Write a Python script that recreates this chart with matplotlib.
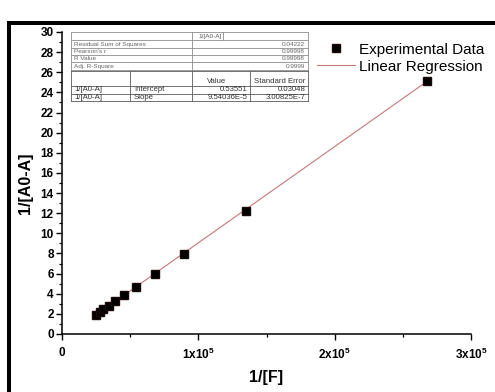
import numpy as np
import matplotlib
matplotlib.use("Agg")
import matplotlib.pyplot as plt
from matplotlib.patches import Rectangle

plt.rcParams['font.family'] = ['Liberation Sans', 'DejaVu Sans']
plt.rcParams['mathtext.fontset'] = 'custom'
plt.rcParams['mathtext.rm'] = 'Liberation Sans:bold'
plt.rcParams['mathtext.bf'] = 'Liberation Sans:bold'
plt.rcParams['mathtext.it'] = 'Liberation Sans:bold'

# Measured data: 1/[F] versus 1/[A0-A]
inv_F = [24900, 27900, 30300, 34200, 39100, 45500, 54500, 68000, 89700, 134700, 267700]
inv_dA = [1.86, 2.19, 2.46, 2.79, 3.28, 3.88, 4.68, 5.97, 7.99, 12.24, 25.17]

x_ticks = [0, 1e5, 2e5, 3e5]
x_tick_labels = ['0', r'$\mathbf{1x10^5}$', r'$\mathbf{2x10^5}$', r'$\mathbf{3x10^5}$']
y_ticks = list(range(0, 31, 2))

# Fit summary tables
stats_header = "1/[A0-A]"
stats_labels = ["Residual Sum of Squares", "Pearson's r", "R Value", "Adj. R-Square"]
stats_values = ["0.04222", "0.99998", "0.99998", "0.9999"]
param_header = ["Value", "Standard Error"]
param_rows = [
    ["1/[A0-A]", "Intercept", "0.53551", "0.03048"],
    ["1/[A0-A]", "Slope", "9.54036E-5", "3.00825E-7"],
]

W, H = 495, 392
fig = plt.figure(figsize=(W / 100, H / 100), dpi=100)

L, R, T, B = 62, 471, 32, 334
ax = fig.add_axes([L / W, (H - B) / H, (R - L) / W, (B - T) / H])

x = np.array(inv_F, dtype=float)
y = np.array(inv_dA, dtype=float)
slope, intercept = np.polyfit(x, y, 1)
xf = np.array([x.min(), x.max()])
ax.plot(xf, intercept + slope * xf, color='#c47878', lw=0.8, zorder=2,
        label='Linear Regression')
ax.plot(x, y, ls='none', marker='s', ms=5.5, color='black', mec='#1a0a0a',
        zorder=3, label='Experimental Data')

ax.set_xlim(0, 3e5)
ax.set_ylim(0, 30)
ax.set_xticks(x_ticks)
ax.set_xticklabels(x_tick_labels)
ax.set_xticks([0.5e5, 1.5e5, 2.5e5], minor=True)
ax.set_yticks(y_ticks)
ax.set_yticks(range(1, 30, 2), minor=True)
for s in ['top', 'right']:
    ax.spines[s].set_visible(False)
for s in ['left', 'bottom']:
    ax.spines[s].set_linewidth(1.1)
ax.tick_params(which='major', direction='out', length=4, width=1, labelsize=8.5)
ax.tick_params(which='minor', direction='out', length=2.5, width=0.9)
ax.tick_params(axis='x', which='major', pad=5, labelsize=8.5)
ax.tick_params(axis='y', which='major', pad=2)
for lab in ax.get_yticklabels() + ax.get_xticklabels():
    lab.set_fontweight('bold')

ax.set_xlabel('1/[F]', fontsize=11.5, fontweight='bold', labelpad=6)
ax.set_ylabel('1/[A0-A]', fontsize=11.5, fontweight='bold', labelpad=5)

handles, labels = ax.get_legend_handles_labels()
leg = ax.legend(handles[::-1], labels[::-1], loc='upper left',
                bbox_to_anchor=(309 / W, 1 - 35 / H), bbox_transform=fig.transFigure,
                frameon=False, fontsize=11, borderpad=0, handlelength=2.5,
                handletextpad=0.3, labelspacing=0.2)

# overlay in pixel coordinates for the frame and the fit tables
ov = fig.add_axes([0, 0, 1, 1], zorder=5)
ov.set_xlim(0, W)
ov.set_ylim(H, 0)
ov.axis('off')
ov.patch.set_alpha(0)

ov.add_patch(Rectangle((7, 21), W - 7, 4, color='black', lw=0))
ov.add_patch(Rectangle((7, 21), 4, H - 21, color='black', lw=0))

# statistics table
tx0, tx1, tmid = 71, 308, 192
rows_y = [32, 40, 48, 55, 62, 70]
lc1 = '#8c8c8c'
for yy in rows_y:
    ov.plot([tx0, tx1], [yy, yy], color=lc1, lw=0.6)
ov.plot([tx0, tx0], [rows_y[0], rows_y[-1]], color=lc1, lw=0.6)
ov.plot([tx1, tx1], [rows_y[0], rows_y[-1]], color=lc1, lw=0.6)
ov.plot([tmid, tmid], [rows_y[0], rows_y[-1]], color=lc1, lw=0.6)
ov.plot([223, 223], [rows_y[0], rows_y[1]], color=lc1, lw=0.6)
ov.text(198, (rows_y[0] + rows_y[1]) / 2, stats_header, fontsize=4.6,
        color='#555555', va='center', ha='left')
for i, (lab, val) in enumerate(zip(stats_labels, stats_values)):
    yc = (rows_y[i + 1] + rows_y[i + 2]) / 2
    ov.text(74, yc, lab, fontsize=4.6, color='#666666', va='center', ha='left')
    ov.text(305, yc, val, fontsize=4.6, color='#666666', va='center', ha='right')

# parameter table
lc2 = '#5a5a5a'
p_y = [71, 86, 93.5, 101]
cols = [71, 130, 192, 250, 308]
for yy in p_y:
    ov.plot([tx0, tx1], [yy, yy], color=lc2, lw=0.6)
for xx in cols:
    ov.plot([xx, xx], [p_y[0], p_y[-1]], color=lc2, lw=0.6)
ov.text(207, 81.5, param_header[0], fontsize=5.6, color='#333333', va='center', ha='left')
ov.text(254, 81.5, param_header[1], fontsize=5.6, color='#333333', va='center', ha='left')
for i, row in enumerate(param_rows):
    yc = (p_y[i + 1] + p_y[i + 2]) / 2
    ov.text(74, yc, row[0], fontsize=5.6, color='#333333', va='center', ha='left')
    ov.text(134, yc, row[1], fontsize=5.6, color='#333333', va='center', ha='left')
    ov.text(248, yc, row[2], fontsize=5.6, color='#333333', va='center', ha='right')
    ov.text(306, yc, row[3], fontsize=5.6, color='#333333', va='center', ha='right')

fig.savefig('out.png', dpi=100)
